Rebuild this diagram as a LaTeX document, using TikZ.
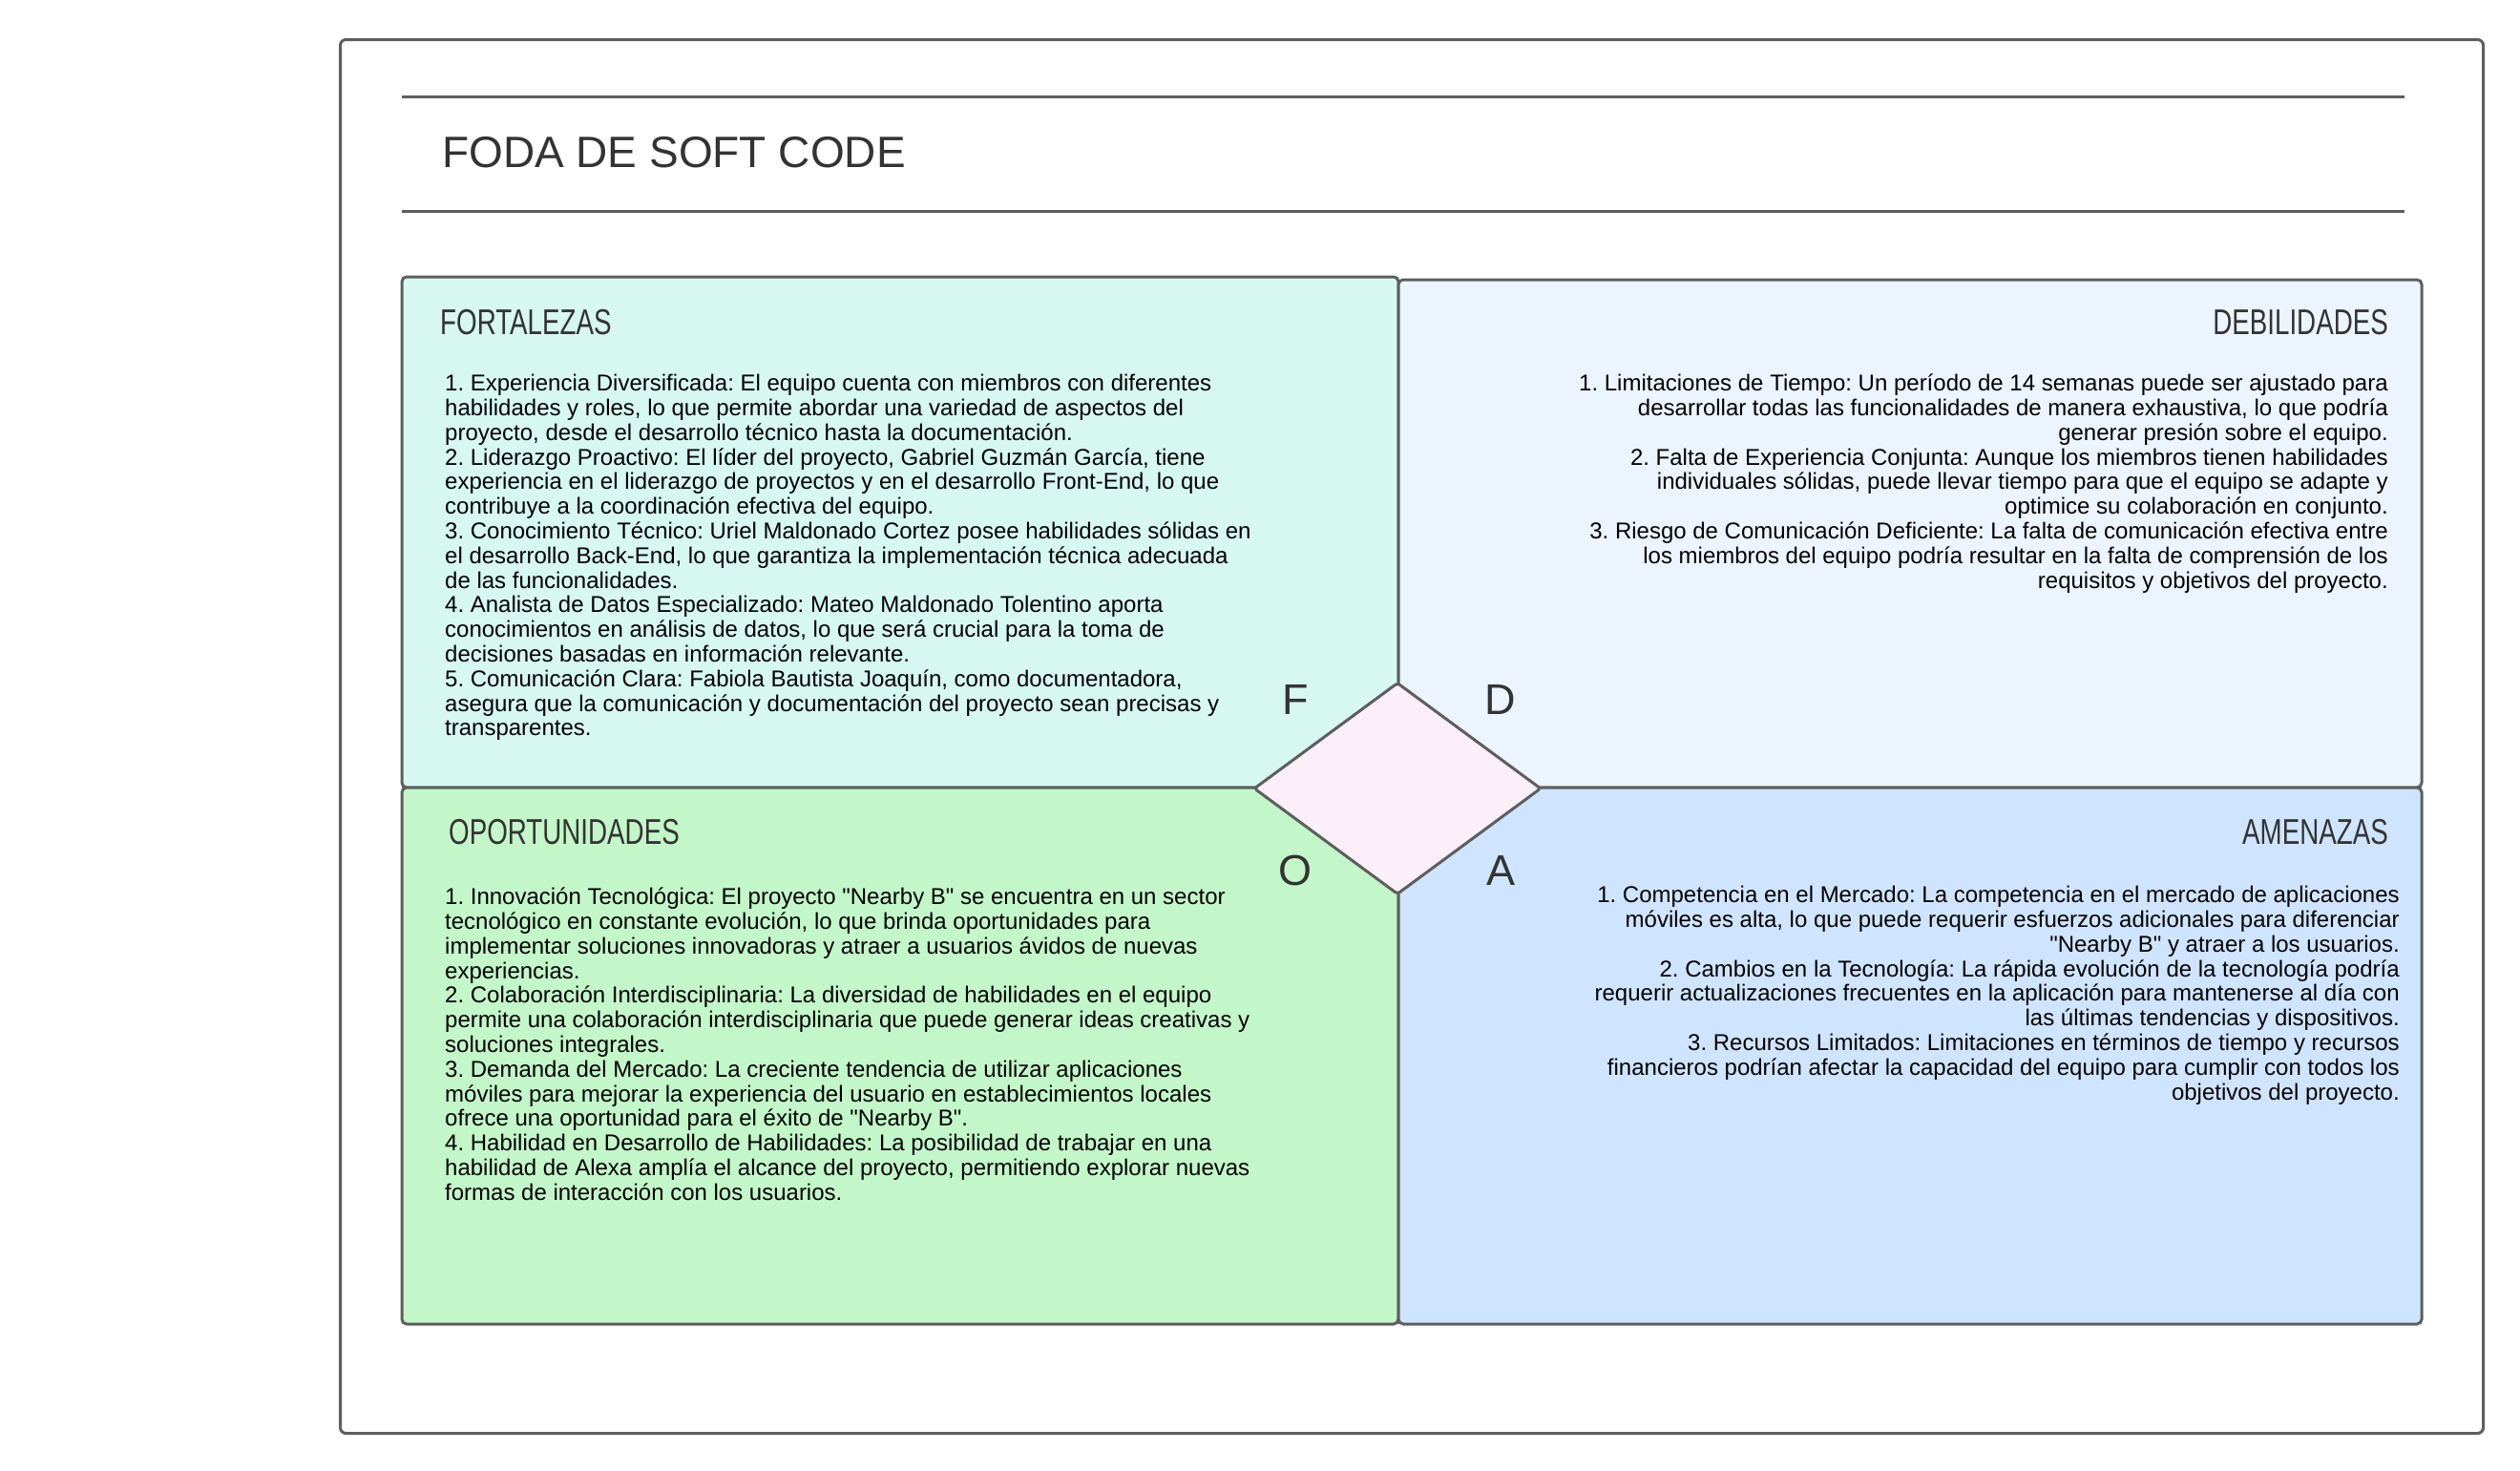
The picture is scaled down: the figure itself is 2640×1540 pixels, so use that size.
\documentclass[tikz,border=0pt]{standalone}
\usepackage{fontspec}
\setmainfont{Liberation Sans}[Ligatures=TeXOff]
\usetikzlibrary{shapes.geometric}
\definecolor{strk}{HTML}{5E5E5E}
\definecolor{dark}{HTML}{333333}
\definecolor{fillF}{HTML}{D6F8F1}
\definecolor{fillD}{HTML}{ECF4FF}
\definecolor{fillO}{HTML}{C3F6C8}
\definecolor{fillA}{HTML}{CFE4FF}
\definecolor{pinkd}{HTML}{FDEFFA}
\tikzset{
  quad/.style={draw=strk, line width=3pt, rounded corners=5pt, inner sep=0pt, outer sep=0pt, anchor=north west},
  body/.style={inner sep=0pt, font=\fontsize{24}{25.8}\selectfont\frenchspacing, text=black},
  head/.style={inner sep=0pt, font=\fontsize{37.5}{40}\selectfont, text=dark},
  letter/.style={inner sep=0pt, font=\fontsize{45}{50}\selectfont, text=dark},
  rule/.style={draw=strk, line width=3pt}
}
\newcommand{\hd}[1]{\scalebox{0.74}[1]{#1}}
\begin{document}
\begin{tikzpicture}[x=1pt,y=-1pt]
\useasboundingbox[fill=white] (0,0) rectangle (2640,1540);
% outer frame
\node[draw=strk, line width=3pt, rounded corners=6pt, inner sep=0pt, anchor=north west, minimum width=2245pt, minimum height=1460pt] (frame) at (355,40) {};
% title rules
\coordinate (t1a) at (421,101); \coordinate (t1b) at (2519,101);
\coordinate (t2a) at (421,221); \coordinate (t2b) at (2519,221);
\draw[rule] (t1a) -- (t1b);
\draw[rule] (t2a) -- (t2b);
\node[anchor=west, inner sep=0pt, font=\fontsize{46}{50}\selectfont, text=dark] (title) at (463,160) {FODA DE SOFT CODE};
% quadrants
\node[quad, fill=fillF, minimum width=1044pt, minimum height=535pt] (F) at (421,290) {};
\node[quad, fill=fillD, minimum width=1072pt, minimum height=532pt] (D) at (1465,293) {};
\node[quad, fill=fillO, minimum width=1044pt, minimum height=562pt] (O) at (421,825) {};
\node[quad, fill=fillA, minimum width=1072pt, minimum height=562pt] (A) at (1465,825) {};
% centre diamond
\node[diamond, draw=strk, fill=pinkd, line width=3pt, rounded corners=3pt, inner sep=0pt, minimum width=301pt, minimum height=222pt] (dia) at (1464,826) {};
% letters
\node[letter] (lF) at (1357,733) {F};
\node[letter] (lD) at (1572,733) {D};
\node[letter] (lO) at (1357,912) {O};
\node[letter] (lA) at (1572,912) {A};
% headers
\node[head, anchor=west] (hF) at (461,338) {\hd{FORTALEZAS}};
\node[head, anchor=east] (hD) at (2502,338) {\hd{DEBILIDADES}};
\node[head, anchor=west] (hO) at (470,872) {\hd{OPORTUNIDADES}};
\node[head, anchor=east] (hA) at (2502,872) {\hd{AMENAZAS}};
% body texts
\node[body, align=left, anchor=north west] (tF) at (466,391.5) {\strut 1. Experiencia Diversificada: El equipo cuenta con miembros con diferentes\\
habilidades y roles, lo que permite abordar una variedad de aspectos del\\
proyecto, desde el desarrollo técnico hasta la documentación.\\
2. Liderazgo Proactivo: El líder del proyecto, Gabriel Guzmán García, tiene\\
experiencia en el liderazgo de proyectos y en el desarrollo Front-End, lo que\\
contribuye a la coordinación efectiva del equipo.\\
3. Conocimiento Técnico: Uriel Maldonado Cortez posee habilidades sólidas en\\
el desarrollo Back-End, lo que garantiza la implementación técnica adecuada\\
de las funcionalidades.\\
4. Analista de Datos Especializado: Mateo Maldonado Tolentino aporta\\
conocimientos en análisis de datos, lo que será crucial para la toma de\\
decisiones basadas en información relevante.\\
5. Comunicación Clara: Fabiola Bautista Joaquín, como documentadora,\\
asegura que la comunicación y documentación del proyecto sean precisas y\\
transparentes.};
\node[body, align=right, anchor=north east] (tD) at (2502,391.5) {\strut 1. Limitaciones de Tiempo: Un período de 14 semanas puede ser ajustado para\\
desarrollar todas las funcionalidades de manera exhaustiva, lo que podría\\
generar presión sobre el equipo.\\
2. Falta de Experiencia Conjunta: Aunque los miembros tienen habilidades\\
individuales sólidas, puede llevar tiempo para que el equipo se adapte y\\
optimice su colaboración en conjunto.\\
3. Riesgo de Comunicación Deficiente: La falta de comunicación efectiva entre\\
los miembros del equipo podría resultar en la falta de comprensión de los\\
requisitos y objetivos del proyecto.};
\node[body, align=left, anchor=north west] (tO) at (466,929.5) {\strut 1. Innovación Tecnológica: El proyecto "Nearby B" se encuentra en un sector\\
tecnológico en constante evolución, lo que brinda oportunidades para\\
implementar soluciones innovadoras y atraer a usuarios ávidos de nuevas\\
experiencias.\\
2. Colaboración Interdisciplinaria: La diversidad de habilidades en el equipo\\
permite una colaboración interdisciplinaria que puede generar ideas creativas y\\
soluciones integrales.\\
3. Demanda del Mercado: La creciente tendencia de utilizar aplicaciones\\
móviles para mejorar la experiencia del usuario en establecimientos locales\\
ofrece una oportunidad para el éxito de "Nearby B".\\
4. Habilidad en Desarrollo de Habilidades: La posibilidad de trabajar en una\\
habilidad de Alexa amplía el alcance del proyecto, permitiendo explorar nuevas\\
formas de interacción con los usuarios.};
\node[body, align=right, anchor=north east] (tA) at (2514,927.5) {\strut 1. Competencia en el Mercado: La competencia en el mercado de aplicaciones\\
móviles es alta, lo que puede requerir esfuerzos adicionales para diferenciar\\
"Nearby B" y atraer a los usuarios.\\
2. Cambios en la Tecnología: La rápida evolución de la tecnología podría\\
requerir actualizaciones frecuentes en la aplicación para mantenerse al día con\\
las últimas tendencias y dispositivos.\\
3. Recursos Limitados: Limitaciones en términos de tiempo y recursos\\
financieros podrían afectar la capacidad del equipo para cumplir con todos los\\
objetivos del proyecto.};
\end{tikzpicture}
\end{document}
